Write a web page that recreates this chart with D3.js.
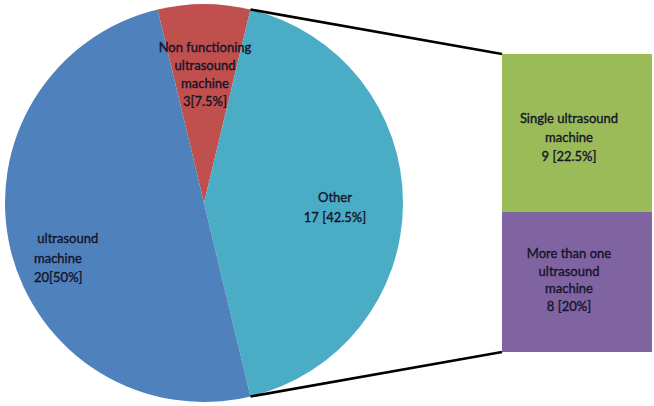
<!DOCTYPE html>
<html><head><meta charset="utf-8">
<script src="https://cdn.jsdelivr.net/npm/d3@7"></script>
<style>body{margin:0;background:#fff}svg{display:block}text{font-family:Lato,"Open Sans",sans-serif;font-size:13px;fill:#14142a;stroke:#14142a;stroke-width:0.35px}</style>
</head><body><svg id="c" width="654" height="406"></svg>
<script>
const pieCategories = ["Non functioning ultrasound machine", "Other", "ultrasound machine"];
const pieValues = [3, 17, 20];
const pieLabels = [["Non functioning", "ultrasound", "machine", "3[7.5%]"], ["Other", "17 [42.5%]"], ["\u00a0ultrasound", "machine", "20[50%]"]];
const barCategories = ["Single ultrasound machine", "More than one ultrasound machine"];
const barValues = [9, 8];
const barLabels = [["Single ultrasound", "machine", "9 [22.5%]"], ["More than one", "ultrasound", "machine", "8 [20%]"]];
const pieColors = ["#C0504D", "#4BACC6", "#4F81BD"];
const barColors = ["#9BBB59", "#8064A2"];

const svg = d3.select("#c");
const cx = 204, cy = 203, r = 199;
const total = d3.sum(pieValues);
const start = -Math.PI * pieValues[0] / total;
const pie = d3.pie().sort(null).startAngle(start).endAngle(start + 2 * Math.PI);
const arcs = pie(pieValues);
const arc = d3.arc().innerRadius(0).outerRadius(r);
const g = svg.append("g").attr("transform", `translate(${cx},${cy})`);
g.selectAll("path").data(arcs).join("path").attr("d", arc).attr("fill", (d, i) => pieColors[i]);

// bar
const bx = 502, bw = 150;
const y = d3.scaleLinear().domain([0, d3.sum(barValues)]).range([54, 352]);
let acc = 0;
const stacks = barValues.map(v => { const s = { y0: acc, y1: acc + v }; acc += v; return s; });
svg.selectAll("rect.bar").data(stacks).join("rect").attr("class", "bar")
  .attr("x", bx).attr("width", bw)
  .attr("y", d => y(d.y0)).attr("height", d => y(d.y1) - y(d.y0))
  .attr("fill", (d, i) => barColors[i]);

// connectors
const other = arcs[1];
const pt = a => [cx + r * Math.sin(a), cy - r * Math.cos(a)];
const p1 = pt(other.startAngle), p2 = pt(other.endAngle);
svg.append("line").attr("x1", p1[0]).attr("y1", p1[1]).attr("x2", bx).attr("y2", y(0)).attr("stroke", "#000").attr("stroke-width", 2.5);
svg.append("line").attr("x1", p2[0]).attr("y1", p2[1]).attr("x2", bx).attr("y2", y(d3.sum(barValues))).attr("stroke", "#000").attr("stroke-width", 2.5);

function block(lines, x, y0, dy, anchor) {
  const t = svg.append("text").attr("text-anchor", anchor);
  lines.forEach((l, i) => t.append("tspan").attr("x", x).attr("y", y0 + i * dy).text(l));
}
block(pieLabels[0], 205, 52, 18, "middle");
block(pieLabels[1], 335, 202, 20, "middle");
block(pieLabels[2], 34, 243, 19.5, "start");
block(barLabels[0], 569, 123, 19, "middle");
block(barLabels[1], 569, 258, 17.5, "middle");
</script></body></html>
